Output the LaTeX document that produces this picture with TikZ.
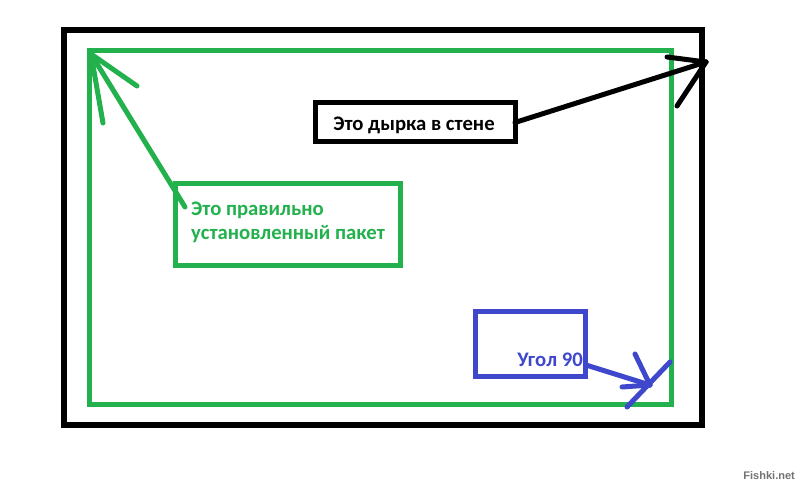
\documentclass[tikz,border=0pt]{standalone}
\usepackage{fontspec}
\setmainfont{Carlito}
\newfontfamily\wmfont{Liberation Sans}
\definecolor{pgreen}{RGB}{34,177,76}
\definecolor{pblue}{RGB}{63,72,204}
\begin{document}
\begin{tikzpicture}[x=1pt,y=-1pt,
  frame/.style={draw=black,line width=6pt,inner sep=0pt,outer sep=0pt},
  boxb/.style={draw=black,line width=5pt,inner sep=0pt,outer sep=0pt},
  boxg/.style={draw=pgreen,line width=5pt,inner sep=0pt,outer sep=0pt},
  boxbl/.style={draw=pblue,line width=5pt,inner sep=0pt,outer sep=0pt},
  txt/.style={font=\bfseries\fontsize{20.7}{24.5}\selectfont,inner sep=0pt},
  arrb/.style={draw=black,line width=5pt,line cap=round},
  arrg/.style={draw=pgreen,line width=5pt,line cap=round},
  arrbl/.style={draw=pblue,line width=5pt,line cap=round}]
\fill[white] (0,0) rectangle (800,494);
\useasboundingbox (0,0) rectangle (800,494);
% outer wall
\node[frame,minimum width=638pt,minimum height=395pt] (wall) at (383,227.5) {};
% package (green frame)
\node[boxg,minimum width=582pt,minimum height=353pt] (pack) at (380,227.5) {};
% black label box
\node[boxb,minimum width=200pt,minimum height=39pt] (hole) at (415,122.5) {};
\node[txt,text=black,anchor=base] (holet) at (414,131) {Это дырка в стене};
% green label box
\node[boxg,minimum width=225pt,minimum height=82pt] (gbox) at (287.5,225) {};
\node[txt,text=pgreen,anchor=base west,align=left] (gboxt) at (191,240) {Это правильно\\установленный пакет};
% blue label box
\node[boxbl,minimum width=110pt,minimum height=65pt] (ang) at (530,343.5) {};
\node[txt,text=pblue,anchor=base east] (angt) at (583,366) {Угол 90};
% black arrow
\coordinate (htip) at (706,62);
\coordinate (hw1) at (667,57);
\coordinate (hw2) at (677,106);
\draw[arrb] (hole.east) -- (htip);
\draw[arrb] (htip) -- (hw1);
\draw[arrb] (htip) -- (hw2);
% green arrow
\coordinate (gtail) at (185,207);
\coordinate (gtip) at (91,54);
\coordinate (gw1) at (137,86);
\coordinate (gw2) at (103,123);
\draw[arrg] (gtail) -- (gtip);
\draw[arrg] (gtip) -- (gw1);
\draw[arrg] (gtip) -- (gw2);
% blue arrow
\coordinate (btail) at (586,365);
\coordinate (btip) at (650,385);
\coordinate (bw1) at (635,354);
\coordinate (bw2) at (622,387);
\coordinate (bc1) at (670,362);
\coordinate (bc2) at (627,407);
\draw[arrbl] (btail) -- (btip);
\draw[arrbl] (btip) -- (bw1);
\draw[arrbl] (btip) -- (bw2);
\draw[arrbl] (bc1) -- (bc2);
% watermark
\node[font=\wmfont\bfseries\fontsize{11}{13}\selectfont,text=black!55,anchor=base east,inner sep=0pt] (wm) at (795,479) {Fishki.net};
\end{tikzpicture}
\end{document}
